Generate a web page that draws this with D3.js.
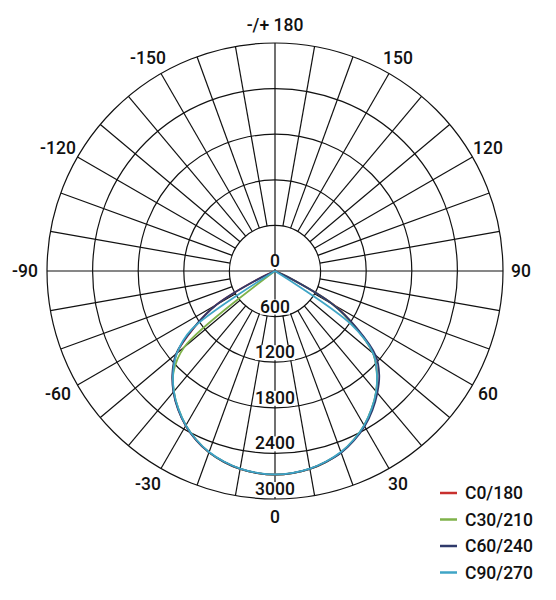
<!DOCTYPE html>
<html>
<head>
<meta charset="utf-8">
<script src="https://cdn.jsdelivr.net/npm/d3@7"></script>
<style>
  body { margin: 0; background: #fff; }
  text { font-family: Roboto, "Liberation Sans", sans-serif; font-weight: 500; fill: #111; }
</style>
</head>
<body>
<svg id="polarSvg"></svg>
<script>
"use strict";

// polar luminous intensity diagram (cd/klm)

// data
const gammaAngles = [-90, -85, -80, -75, -70, -65, -60, -55, -50, -45, -40, -35, -30, -25, -20, -15, -10, -5,
  0, 5, 10, 15, 20, 25, 30, 35, 40, 45, 50, 55, 60, 65, 70, 75, 80, 85, 90];

const seriesNames = ["C0/180", "C30/210", "C60/240", "C90/270"];

const c0Values = [0, 0, 0, 0, 0, 200, 900, 1300, 1690, 1900, 2075, 2220, 2350, 2455, 2540, 2600, 2645, 2670,
  2680, 2670, 2645, 2600, 2540, 2455, 2350, 2220, 2075, 1900, 1690, 1300, 900, 200, 0, 0, 0, 0, 0];
const c30Values = [0, 0, 0, 0, 0, 0, 0, 0, 1560, 1890, 2070, 2215, 2345, 2450, 2540, 2600, 2645, 2670,
  2680, 2670, 2645, 2600, 2540, 2450, 2345, 2215, 2070, 1895, 1685, 1290, 880, 180, 0, 0, 0, 0, 0];
const c60Values = [0, 0, 0, 0, 0, 190, 890, 1310, 1700, 1910, 2080, 2225, 2350, 2455, 2540, 2600, 2645, 2670,
  2680, 2670, 2645, 2600, 2545, 2460, 2360, 2235, 2095, 1940, 1730, 1320, 880, 190, 0, 0, 0, 0, 0];
const c90Values = [0, 0, 0, 0, 0, 0, 0, 1340, 1685, 1895, 2070, 2215, 2345, 2450, 2535, 2595, 2640, 2665,
  2675, 2665, 2640, 2595, 2535, 2450, 2345, 2215, 2070, 1895, 1685, 1220, 0, 0, 0, 0, 0, 0, 0];

const seriesValues = [c0Values, c30Values, c60Values, c90Values];
const seriesColors = ["#c8302e", "#7fb24a", "#2f3a6b", "#3fa5c6"];

const ringTicks = [0, 600, 1200, 1800, 2400, 3000];
const angleTicks = [-150, -120, -90, -60, -30, 0, 30, 60, 90, 120, 150, 180];

// layout
const width = 556, height = 600;
const cx = 275, cy = 271, outerR = 228;

const rScale = d3.scaleLinear().domain([0, 3000]).range([0, outerR]);
// gamma 0 points down, positive gamma to the right
const aScale = d3.scaleLinear().domain([-180, 180]).range([2 * Math.PI, 0]);

const svg = d3.select("#polarSvg")
  .attr("width", width)
  .attr("height", height);

const g = svg.append("g")
  .attr("transform", `translate(${cx},${cy})`);

function px(gamma, r) { return r * Math.sin(aScale(gamma)); }
function py(gamma, r) { return -r * Math.cos(aScale(gamma)); }

// spokes, every 10 deg; the two axes go through the centre
const spokes = d3.range(-180, 180, 10);
g.append("g").selectAll("line")
  .data(spokes)
  .join("line")
  .attr("x1", d => px(d, d % 90 === 0 ? 0 : rScale(600)))
  .attr("y1", d => py(d, d % 90 === 0 ? 0 : rScale(600)))
  .attr("x2", d => px(d, outerR))
  .attr("y2", d => py(d, outerR))
  .attr("stroke", "#111")
  .attr("stroke-width", 1.2);

// rings
g.append("g").selectAll("circle")
  .data(ringTicks.filter(d => d > 0))
  .join("circle")
  .attr("r", d => rScale(d))
  .attr("fill", "none")
  .attr("stroke", "#111")
  .attr("stroke-width", 1.2);

// ring labels with white backing
const ringLabels = g.append("g").selectAll("g")
  .data(ringTicks)
  .join("g");

ringLabels.append("text")
  .attr("x", 0)
  .attr("y", d => rScale(d) - 4)
  .attr("text-anchor", "middle")
  .attr("font-size", 17.5)
  .text(d => d);

ringLabels.each(function() {
  const t = d3.select(this).select("text");
  const bb = t.node().getBBox();
  d3.select(this).insert("rect", "text")
    .attr("x", bb.x)
    .attr("y", bb.y + 3)
    .attr("width", bb.width)
    .attr("height", bb.height - 5)
    .attr("fill", "#fff");
});

// angle labels
const labelR = 246;
g.append("g").selectAll("text")
  .data(angleTicks)
  .join("text")
  .attr("x", d => px(d, labelR) - (d < 0 ? 4 : 0))
  .attr("y", d => py(d, labelR))
  .attr("dy", "0.36em")
  .attr("text-anchor", "middle")
  .attr("font-size", 17.5)
  .text(d => d === 180 ? "-/+ 180" : d);

// intensity curves
const radialLine = d3.lineRadial()
  .angle(d => aScale(d[0]))
  .radius(d => rScale(d[1]))
  .curve(d3.curveCatmullRom.alpha(0.5));

g.append("g").selectAll("path")
  .data(seriesValues)
  .join("path")
  .attr("d", vals => radialLine(gammaAngles.map((a, i) => [a, vals[i]])))
  .attr("fill", "none")
  .attr("stroke", (d, i) => seriesColors[i])
  .attr("stroke-width", 1.8)
  .attr("stroke-linejoin", "round");

// legend
const legend = svg.append("g")
  .attr("transform", "translate(440,493)");

const legendRows = legend.selectAll("g")
  .data(seriesNames)
  .join("g")
  .attr("transform", (d, i) => `translate(0,${i * 26.5})`);

legendRows.append("line")
  .attr("x1", 0).attr("x2", 17)
  .attr("y1", 0).attr("y2", 0)
  .attr("stroke", (d, i) => seriesColors[i])
  .attr("stroke-width", 2.5);

legendRows.append("text")
  .attr("x", 25)
  .attr("dy", "0.36em")
  .attr("font-size", 17.5)
  .text(d => d);
</script>
</body>
</html>
